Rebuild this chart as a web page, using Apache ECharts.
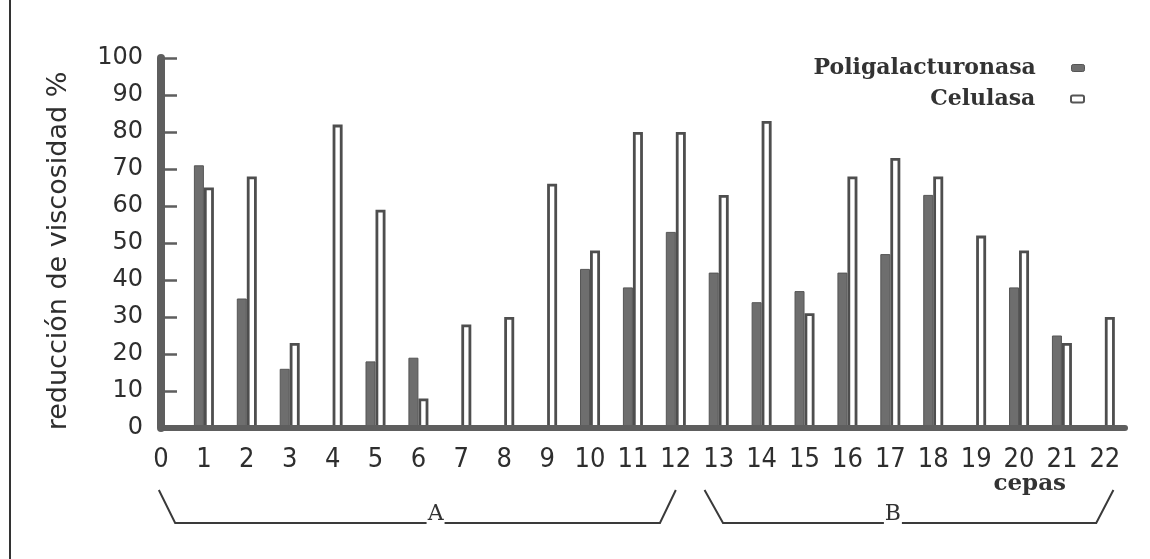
<!DOCTYPE html>
<html>
<head>
<meta charset="utf-8">
<script src="https://cdn.jsdelivr.net/npm/echarts@6/dist/echarts.min.js"></script>
<style>html,body{margin:0;padding:0;background:#fff;}#c{width:1150px;height:559px;}</style>
</head>
<body>
<div id="c"></div>
<script>
// ---- data ----
const cepas = [0,1,2,3,4,5,6,7,8,9,10,11,12,13,14,15,16,17,18,19,20,21,22];
const poligalacturonasa = [null,71,35,16,null,18,19,null,null,null,43,38,53,42,34,37,42,47,63,null,38,25,null];
const celulasa = [null,65,68,23,82,59,8,28,30,66,48,80,80,63,83,31,68,73,68,52,48,23,30];
const yMin = 0, yMax = 100, yInterval = 10;
const groupA = {label: 'A', from: 0, to: 12};
const groupB = {label: 'B', from: 13, to: 22};
const seriesNames = ['Poligalacturonasa', 'Celulasa'];
const xTitle = 'cepas';
const yTitle = 'reducción de viscosidad %';

const pairs = (vals) => cepas.map((c, i) => vals[i] == null ? null : [c, vals[i]]).filter(Boolean);

const dark = '#5e5e5e';
const legendText = {fontFamily: 'DejaVu Serif', fontWeight: 'bold', fontSize: 22, color: '#333'};
const chart = echarts.init(document.getElementById('c'));
chart.setOption({
  backgroundColor: '#ffffff',
  animation: false,
  grid: {left: 161, right: 25, top: 58, bottom: 131, containLabel: false},
  legend: [
    {data: [{name: seriesNames[0], itemStyle: {color: '#6f6f6f', borderColor: '#555', borderWidth: 1}}],
     right: 60, top: 52, align: 'right', icon: 'roundRect', itemWidth: 13, itemHeight: 7,
     formatter: n => n + '    ', textStyle: legendText},
    {data: [{name: seriesNames[1], itemStyle: {color: '#ffffff', borderColor: '#555', borderWidth: 2}}],
     right: 60, top: 83, align: 'right', icon: 'roundRect', itemWidth: 13, itemHeight: 7,
     formatter: n => n + '    ', textStyle: legendText}
  ],
  xAxis: {
    type: 'value', min: 0, max: 22.47, interval: 1, z: 5,
    splitLine: {show: false},
    axisTick: {show: false},
    axisLine: {show: true, lineStyle: {color: dark, width: 6}},
    axisLabel: {
      margin: 18, fontSize: 27, color: '#2e2e2e',
      fontFamily: "'Liberation Sans Narrow', 'DejaVu Sans Condensed', 'Liberation Sans', sans-serif",
      formatter: v => Number.isInteger(v) ? String(v) : ''
    }
  },
  yAxis: {
    type: 'value', min: yMin, max: yMax, interval: yInterval, z: 5,
    name: yTitle, nameLocation: 'middle', nameGap: 89, nameRotate: 90,
    nameTextStyle: {fontFamily: 'DejaVu Sans', fontSize: 27, color: '#2e2e2e', padding: [0, 16, 0, 0]},
    splitLine: {show: false},
    axisLine: {show: true, lineStyle: {color: dark, width: 8}},
    axisTick: {show: true, inside: true, length: 16, lineStyle: {color: dark, width: 2.5}},
    axisLabel: {margin: 18, fontSize: 24, color: '#2e2e2e', fontFamily: 'DejaVu Sans'}
  },
  series: [
    {name: seriesNames[0], type: 'bar', data: pairs(poligalacturonasa), barWidth: 10, barGap: '0%',
     itemStyle: {color: '#6e6e6e', borderColor: '#555', borderWidth: 1}},
    {name: seriesNames[1], type: 'bar', data: pairs(celulasa), barWidth: 10, barGap: '0%',
     itemStyle: {color: '#ffffff', borderColor: '#4e4e4e', borderWidth: 2.8}}
  ]
});

function px(v) { return chart.convertToPixel({xAxisIndex: 0}, v); }
const y0 = chart.convertToPixel({yAxisIndex: 0}, 0);
const bTop = y0 + 62, bLine = y0 + 95;
function bracket(g, x1, x2, x3, x4, xl) {
  return [
    {type: 'polyline', shape: {points: [[px(x1), bTop], [px(x2), bLine], [px(x3), bLine], [px(x4), bTop]]},
     style: {stroke: '#3a3a3a', lineWidth: 2, fill: null}},
    {type: 'rect', shape: {x: px(xl) - 9, y: bLine - 3, width: 18, height: 6}, style: {fill: '#fff'}},
    {type: 'text', x: px(xl), y: bLine + 2,
     style: {text: g.label, fontFamily: 'DejaVu Serif', fontSize: 22, fill: '#333', align: 'center', verticalAlign: 'bottom'}}
  ];
}
chart.setOption({
  graphic: [
    {type: 'line', shape: {x1: 10, y1: 0, x2: 10, y2: 559}, style: {stroke: '#333', lineWidth: 2}},
    {type: 'text', x: px(20.25), y: y0 + 56,
     style: {text: xTitle, fontFamily: 'DejaVu Serif', fontWeight: 'bold', fontSize: 23, fill: '#333', align: 'center', verticalAlign: 'middle'}},
    ...bracket(groupA, groupA.from - 0.05, groupA.from + 0.33, groupA.to - 0.37, groupA.to, 6.4),
    ...bracket(groupB, groupB.from - 0.33, groupB.from + 0.1, groupB.to - 0.2, groupB.to + 0.2, 17.06)
  ]
});
</script>
</body>
</html>
